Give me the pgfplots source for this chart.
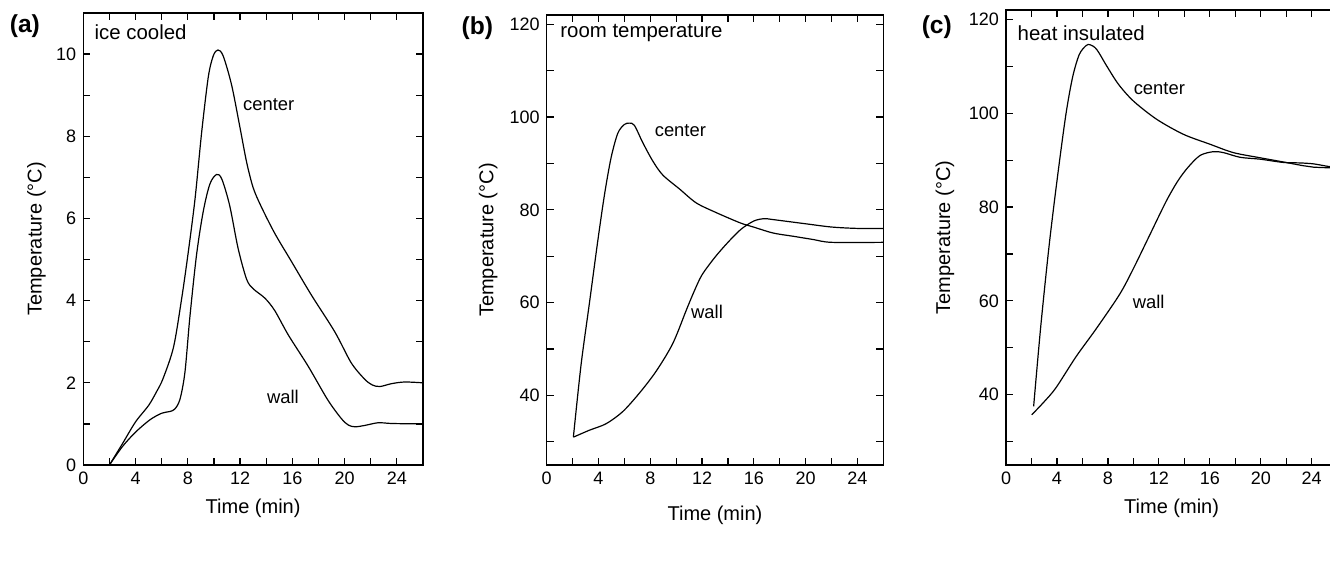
\documentclass[border=0pt]{standalone}
\usepackage{fontspec}
\setmainfont{Liberation Sans}
\usepackage{pgfplots}
\pgfplotsset{compat=1.18}

\pgfplotsset{
  panel/.style={
    scale only axis,
    anchor=south west,
    clip mode=individual,
    xmin=0, xmax=26,
    xtick={0,4,...,24},
    minor xtick={2,6,...,22},
    tick align=inside,
    major tick length=3.5pt,
    minor tick length=3.5pt,
    axis line style={line width=0.7pt},
    every tick/.style={black, line width=0.6pt},
    tick label style={font=\fontsize{9}{10}\selectfont},
    /pgf/number format/assume math mode=true,
    label style={font=\fontsize{10}{12}\selectfont},
    xlabel={Time (min)},
    ylabel={Temperature (°C)},
  },
}
\tikzset{
  curve/.style={black, line width=0.6pt, smooth, tension=0.5, mark=none},
  intext/.style={font=\fontsize{10.2}{12}\selectfont, anchor=west, inner sep=0pt},
  curvetext/.style={font=\fontsize{9.2}{11}\selectfont, anchor=west, inner sep=0pt},
  paneltag/.style={font=\fontsize{12.3}{14}\selectfont\bfseries, anchor=center, inner sep=0pt},
}

\begin{document}
\begin{tikzpicture}
\path[use as bounding box] (0pt,0pt) rectangle (665pt,-281pt);
\clip (0pt,0pt) rectangle (665pt,-281pt);

% (a) ice cooled
\begin{axis}[panel,
  at={(41.65pt,-232.5pt)},
  width=169.85pt, height=226pt,
  ymin=0, ymax=11,
  ytick={0,2,...,10}, minor ytick={1,3,...,9},
  every axis x label/.style={at={(axis description cs:0.5,-0.095)}, anchor=center},
  every axis y label/.style={at={(axis description cs:-0.138,0.5)}, anchor=center, rotate=90},
]
\addplot[curve] coordinates {(2,0) (3,0.52) (4,1.05) (5,1.45) (5.6,1.78) (6.1,2.1) (6.9,2.86) (7.5,3.99) (8.0,5.1) (8.55,6.47) (9.06,8.1) (9.57,9.45) (9.95,9.96) (10.3,10.1) (10.7,9.96) (11.35,9.25) (12.0,8.2) (12.5,7.37) (13.0,6.75) (13.6,6.3) (14.65,5.64) (15.9,4.97) (17.45,4.14) (19.25,3.24) (20.5,2.49) (21.5,2.1) (22.1,1.95) (22.7,1.91) (23.6,1.98) (24.6,2.02) (26,2.0)};
\addplot[curve] coordinates {(2,0) (3,0.45) (4,0.8) (5.1,1.1) (6.0,1.26) (6.6,1.3) (7.0,1.36) (7.4,1.6) (7.78,2.26) (8.16,3.61) (8.67,5.12) (9.18,6.17) (9.69,6.84) (10.2,7.07) (10.6,6.96) (11.2,6.32) (11.85,5.27) (12.5,4.52) (13.0,4.29) (13.9,4.06) (14.65,3.76) (15.7,3.16) (17.2,2.41) (18.7,1.59) (19.75,1.13) (20.3,0.97) (20.8,0.93) (21.5,0.96) (22.6,1.03) (23.6,1.01) (26,1.0)};
\node[intext] at (axis cs:0.84,10.53) {ice cooled};
\node[curvetext] at (axis cs:12.2,8.76) {center};
\node[curvetext] at (axis cs:14.04,1.66) {wall};
\node[paneltag] at (axis description cs:-0.172,0.97) {(a)};
\end{axis}

% (b) room temperature
\begin{axis}[panel,
  at={(273.35pt,-232.5pt)},
  width=168.3pt, height=225pt,
  ymin=25, ymax=122,
  ytick={40,60,...,120}, minor ytick={30,50,...,110},
  every axis x label/.style={at={(axis description cs:0.5,-0.111)}, anchor=center},
  every axis y label/.style={at={(axis description cs:-0.174,0.5)}, anchor=center, rotate=90},
]
\addplot[curve] coordinates {(2.06,31) (2.65,46.5) (3.3,59.9) (3.94,73.2) (4.46,83.2) (4.97,91.2) (5.49,96.5) (6.0,98.4) (6.39,98.7) (6.78,98.2) (7.42,94.5) (8.2,90.5) (8.97,87.5) (10.26,84.5) (11.55,81.5) (13.1,79.4) (14.94,77.2) (15.97,76.3) (17.5,75.0) (19.06,74.3) (20.6,73.6) (22.0,73.0) (26,73.0)};
\addplot[curve] coordinates {(2.06,31) (3.3,32.5) (4.59,33.9) (5.87,36.5) (7.16,40.5) (8.45,45.2) (9.74,51.2) (10.8,58.5) (11.4,62.5) (12.0,66.0) (13.0,69.8) (14.0,73.0) (15.0,75.8) (16.0,77.6) (16.8,78.1) (17.5,77.9) (20.0,77.0) (22.0,76.3) (24,76.0) (26,76.0)};
\node[intext] at (axis cs:1.03,118.2) {room temperature};
\node[curvetext] at (axis cs:8.32,97.0) {center};
\node[curvetext] at (axis cs:11.13,58.1) {wall};
\node[paneltag] at (axis description cs:-0.206,0.97) {(b)};
\end{axis}

% (c) heat insulated
\begin{axis}[panel,
  at={(503pt,-232.5pt)},
  width=165.6pt, height=227.5pt,
  ymin=25, ymax=122,
  ytick={40,60,...,120}, minor ytick={30,50,...,110},
  every axis x label/.style={at={(axis description cs:0.5,-0.0945)}, anchor=center},
  every axis y label/.style={at={(axis description cs:-0.184,0.5)}, anchor=center, rotate=90},
]
\addplot[curve] coordinates {(2.17,37.5) (2.73,54.6) (3.39,71.9) (4.04,86.4) (4.7,99.7) (5.23,107.7) (5.75,112.5) (6.28,114.4) (6.6,114.6) (7.12,113.6) (7.9,110.1) (8.82,106.2) (10.0,102.6) (11.83,98.7) (13.93,95.5) (16.0,93.4) (17.85,91.6) (19.95,90.5) (21.78,89.6) (23.35,88.8) (24.14,88.5) (26,88.3)};
\addplot[curve] coordinates {(2.02,35.7) (3.0,38.5) (3.93,41.5) (5.5,48.1) (7.07,54.0) (8.9,61.3) (9.95,66.6) (11.26,73.9) (12.57,81.2) (13.5,85.6) (14.3,88.5) (15.24,91.0) (16.28,91.8) (17.07,91.6) (18.38,90.6) (19.95,90.2) (21.78,89.5) (23.1,89.4) (24.14,89.2) (25.2,88.7) (26,88.4)};
\node[intext] at (axis cs:0.89,117.0) {heat insulated};
\node[curvetext] at (axis cs:10.0,105.3) {center};
\node[curvetext] at (axis cs:9.92,59.7) {wall};
\node[paneltag] at (axis description cs:-0.209,0.962) {(c)};
\end{axis}
\end{tikzpicture}
\end{document}
